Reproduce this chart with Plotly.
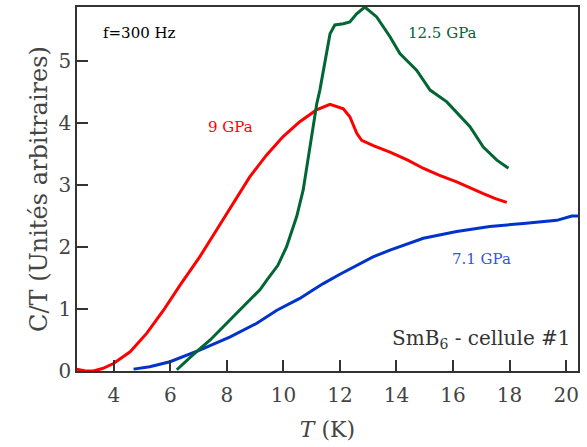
import plotly.graph_objects as go

# 9 GPa (red)
t_9 = [2.69, 3.0, 3.28, 3.6, 3.99, 4.58, 5.17, 5.76, 6.34, 7.04, 7.63, 8.22, 8.81, 9.4,
       9.99, 10.58, 11.17, 11.65, 12.12, 12.35, 12.6, 12.77, 13.2, 13.77, 14.4, 14.94,
       15.5, 16.13, 16.6, 17.07, 17.5, 17.9]
c_9 = [0.03, 0.0, 0.0, 0.04, 0.12, 0.31, 0.61, 0.98, 1.38, 1.84, 2.27, 2.70, 3.13, 3.48,
       3.78, 4.02, 4.21, 4.30, 4.23, 4.10, 3.83, 3.72, 3.63, 3.53, 3.4, 3.27,
       3.16, 3.05, 2.95, 2.86, 2.78, 2.72]

# 12.5 GPa (green)
t_12 = [6.23, 6.8, 7.41, 8.0, 8.59, 9.17, 9.42, 9.8, 10.11, 10.47, 10.7, 10.88, 11.06, 11.18,
        11.29, 11.45, 11.65, 11.82, 12.12, 12.35, 12.59, 12.88, 13.3, 13.77, 14.12, 14.71,
        15.19, 15.78, 16.6, 17.07, 17.55, 17.96]
c_12 = [0.02, 0.26, 0.5, 0.77, 1.04, 1.31, 1.47, 1.7, 2.0, 2.49, 2.92, 3.45, 3.99, 4.31,
        4.53, 4.95, 5.44, 5.58, 5.6, 5.63, 5.76, 5.87, 5.71, 5.39, 5.12, 4.85,
        4.53, 4.34, 3.94, 3.61, 3.4, 3.27]

# 7.1 GPa (blue)
t_7 = [4.7, 5.27, 5.99, 6.5, 7.06, 8.12, 9.06, 9.77, 10.58, 11.06, 11.41, 12.0, 12.59, 13.17,
       13.77, 14.95, 16.13, 17.3, 18.49, 19.67, 20.2, 20.42]
c_7 = [0.03, 0.07, 0.15, 0.24, 0.34, 0.55, 0.77, 0.98, 1.17, 1.31, 1.41, 1.56, 1.70, 1.84,
       1.95, 2.14, 2.25, 2.33, 2.38, 2.43, 2.5, 2.5]

fnt = "DejaVu Serif"

fig = go.Figure()
fig.add_trace(go.Scatter(x=t_7, y=c_7, mode="lines", line=dict(color="#0033cc", width=3)))
fig.add_trace(go.Scatter(x=t_9, y=c_9, mode="lines", line=dict(color="#ff0000", width=3)))
fig.add_trace(go.Scatter(x=t_12, y=c_12, mode="lines", line=dict(color="#006633", width=3)))

ann = [
    dict(x=4.92, y=5.45, text="f=300 Hz", color="#000000"),
    dict(x=8.14, y=3.93, text="9 GPa", color="#ff0000"),
    dict(x=15.61, y=5.45, text="12.5 GPa", color="#006633"),
    dict(x=16.99, y=1.8, text="7.1 GPa", color="#3355dd"),
]
for a in ann:
    fig.add_annotation(x=a["x"], y=a["y"], text=a["text"], showarrow=False,
                       font=dict(family=fnt, size=15, color=a["color"]))
fig.add_annotation(x=20.25, y=0.52, xanchor="right", text="SmB<sub>6</sub> - cellule #1",
                   showarrow=False, font=dict(family=fnt, size=20, color="#333333"))

axis_common = dict(showline=True, linecolor="#333333", linewidth=1.5, mirror=True,
                   ticks="inside", ticklen=11, tickwidth=1.5, tickcolor="#333333",
                   showgrid=False, zeroline=False,
                   tickfont=dict(family=fnt, size=20, color="#444444"))

fig.update_layout(
    width=587, height=447,
    margin=dict(l=77, r=9, t=7, b=76, autoexpand=False),
    plot_bgcolor="white", paper_bgcolor="white",
    showlegend=False,
    xaxis=dict(range=[2.7, 20.42], tickvals=[4, 6, 8, 10, 12, 14, 16, 18, 20],
               ticklabelstandoff=5,
               title=dict(text="<i>T</i> (K)", font=dict(family=fnt, size=22, color="#444444"),
                          standoff=16),
               **axis_common),
    yaxis=dict(range=[0, 5.87], tickvals=[0, 1, 2, 3, 4, 5],
               title=dict(text="C/T (Unités arbitraires)",
                          font=dict(family=fnt, size=24, color="#444444"), standoff=4),
               **axis_common),
)

fig.write_html("out.html", config={"displayModeBar": False},
               post_script="document.body.style.margin='0';")
